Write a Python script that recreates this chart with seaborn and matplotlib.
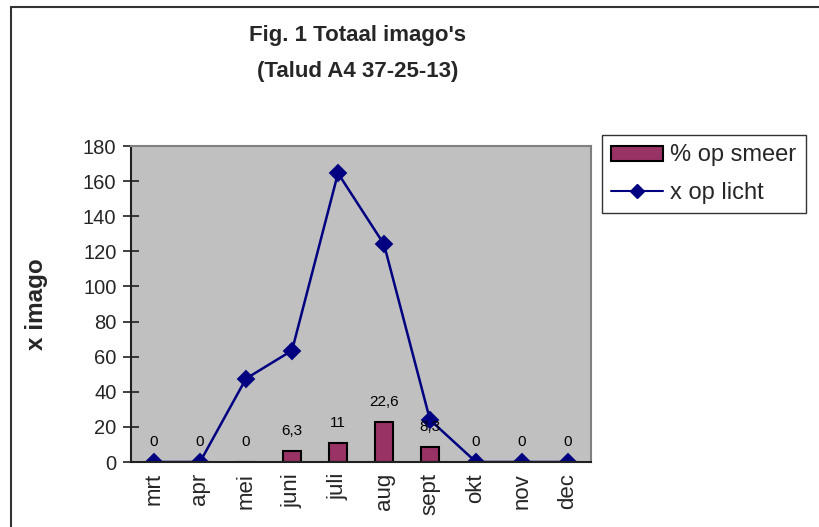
import matplotlib
matplotlib.use("Agg")
import matplotlib.pyplot as plt
import matplotlib.patches as mpatches
import matplotlib.lines as mlines
import seaborn as sns
import pandas as pd
import numpy as np

months = ["mrt", "apr", "mei", "juni", "juli", "aug", "sept", "okt", "nov", "dec"]
pct_smeer = [0, 0, 0, 6.3, 11, 22.6, 8.3, 0, 0, 0]
x_licht = [0, 0, 47.5, 63.5, 164.5, 124, 24, 0, 0, 0]
bar_labels = ["0", "0", "0", "6,3", "11", "22,6", "8,3", "0", "0", "0"]
yticks = [0, 20, 40, 60, 80, 100, 120, 140, 160, 180]

sns.set_theme(style="white")
plt.rcParams["font.family"] = ["Liberation Sans", "DejaVu Sans"]

df = pd.DataFrame({"maand": months, "smeer": pct_smeer, "licht": x_licht})

W, H = 820, 527
fig = plt.figure(figsize=(W / 100, H / 100), dpi=100)
ax = fig.add_axes([131 / W, 1 - 462 / H, 460 / W, 316 / H])
ax.set_facecolor("#C0C0C0")

sns.barplot(data=df, x="maand", y="smeer", color="#993366", width=0.4,
            edgecolor="black", linewidth=1.5, saturation=1, ax=ax, zorder=2)
sns.pointplot(data=df, x="maand", y="licht", color="#000080", markers="D",
              markersize=8, linewidth=1.8, ax=ax, zorder=3)

for i, (v, lab) in enumerate(zip(pct_smeer, bar_labels)):
    ax.annotate(lab, (i, v), xytext=(0, 20), textcoords="offset pixels",
                ha="center", va="center", fontsize=11, color="black", zorder=4)

ax.set_xlim(-0.5, len(months) - 0.5)
ax.set_ylim(0, 180)
ax.set_yticks(yticks)
ax.set_yticklabels([str(t) for t in yticks], fontsize=14.5)
ax.set_xticks(range(len(months)))
ax.set_xticklabels(months, rotation=90, fontsize=16)
ax.set_xticks(np.arange(-0.5, len(months), 1.0), minor=True)
ax.tick_params(axis="x", which="major", length=0, pad=8)
ax.tick_params(axis="x", which="minor", direction="inout", length=10, width=1.2, color="#404040")
ax.tick_params(axis="y", which="major", direction="inout", length=11, width=1.2,
               color="#202020", left=True, pad=5)
ax.grid(False)
ax.set_xlabel("")
ax.set_ylabel("x imago", fontsize=17.5, fontweight="bold")
ax.yaxis.set_label_coords(-0.18, 0.5)

for s in ["left", "bottom"]:
    ax.spines[s].set_color("#202020")
    ax.spines[s].set_linewidth(1.5)
for s in ["top", "right"]:
    ax.spines[s].set_color("#808080")
    ax.spines[s].set_linewidth(1.5)
ax.spines["bottom"].set_zorder(5)

fig.text(358 / W, 1 - 35 / H, "Fig. 1 Totaal imago's", ha="center", va="center",
         fontsize=16, fontweight="bold")
fig.text(358 / W, 1 - 72 / H, "(Talud A4 37-25-13)", ha="center", va="center",
         fontsize=16, fontweight="bold")

h_bar = mpatches.Patch(facecolor="#993366", edgecolor="black", linewidth=1.5)
h_line = mlines.Line2D([], [], color="#000080", marker="D", markersize=7, linewidth=1.5)
leg = fig.legend([h_bar, h_line], ["% op smeer", "x op licht"],
                 loc="upper left", bbox_to_anchor=(602 / W, 1 - 135 / H),
                 bbox_transform=fig.transFigure, fontsize=17, frameon=True,
                 fancybox=False, edgecolor="black", borderaxespad=0,
                 handlelength=2.2, handleheight=0.6, handletextpad=0.3,
                 borderpad=0.4, labelspacing=0.65)
leg.get_frame().set_linewidth(1.0)

# outer chart frame (partially visible)
fig.add_artist(mlines.Line2D([11 / W, 11 / W], [0, 1 - 7 / H], color="#333333",
                             linewidth=1.5, transform=fig.transFigure))
fig.add_artist(mlines.Line2D([11 / W, 1], [1 - 7 / H, 1 - 7 / H], color="#333333",
                             linewidth=1.5, transform=fig.transFigure))

fig.savefig("out.png", dpi=100)
